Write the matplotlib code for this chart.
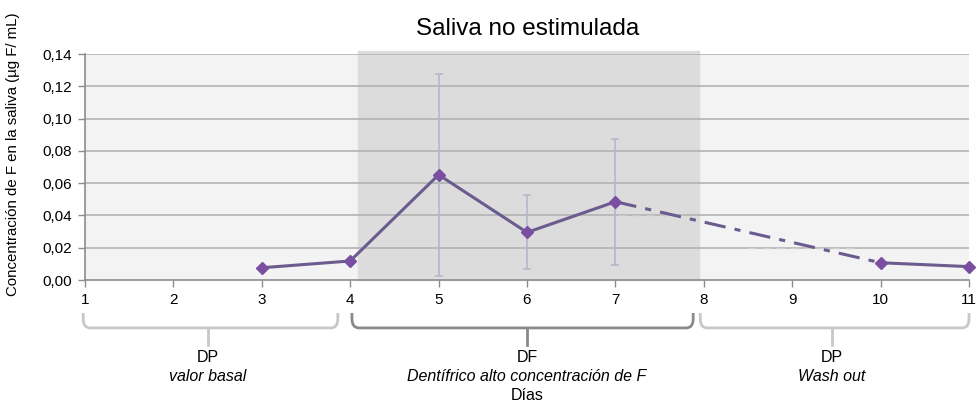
import matplotlib
matplotlib.use("Agg")
import matplotlib.pyplot as plt
from matplotlib.path import Path
from matplotlib.patches import PathPatch, Rectangle
from matplotlib.transforms import blended_transform_factory
from matplotlib.ticker import FuncFormatter

plt.rcParams['font.family'] = ['Liberation Sans', 'DejaVu Sans']

# data
days = [3, 4, 5, 6, 7]
conc = [0.0076, 0.0118, 0.0652, 0.0295, 0.0485]
err_days = [5, 6, 7]
err_mean = [0.0652, 0.0295, 0.0485]
err_low = [0.0025, 0.0070, 0.0095]
err_high = [0.1274, 0.0525, 0.0875]
wash_days = [10, 11]
wash_conc = [0.0107, 0.0083]
xticks = list(range(1, 12))
yticks = [0.00, 0.02, 0.04, 0.06, 0.08, 0.10, 0.12, 0.14]

line_col = '#6b5b8e'
mark_col = '#7a4fa2'

fig = plt.figure(figsize=(9.78, 4.01), dpi=100)
ax = fig.add_axes([0.0869, 0.3017, 0.9039, 0.5636])

ax.set_xlim(1, 11)
ax.set_ylim(0, 0.14)

# background periods
ax.axvspan(1, 4.09, color='#f3f3f3', zorder=0)
ax.axvspan(7.95, 11, color='#f3f3f3', zorder=0)
ax.add_patch(Rectangle((4.09, 0), 7.95 - 4.09, 1.012, color='#dcdcdc', zorder=0,
                       transform=blended_transform_factory(ax.transData, ax.transAxes),
                       clip_on=False))

for y in yticks[1:]:
    ax.axhline(y, color='#b3b3b3', lw=1.2, zorder=1)

# faint leftover dashed guides
ax.plot([7.03, 7.78], [0.04, 0.04], color='#c8c8c8', lw=1, ls=(0, (6, 4)), zorder=2)
ax.plot([8.5, 9.7], [0.02, 0.02], color='#d0d0d0', lw=1, ls=(0, (6, 4)), zorder=2)

# error bars
yerr = [[m - l for m, l in zip(err_mean, err_low)], [h - m for m, h in zip(err_mean, err_high)]]
ax.errorbar(err_days, err_mean, yerr=yerr, fmt='none', ecolor='#b0b6c6', elinewidth=1.1,
            capsize=3, capthick=1.1, zorder=3)

ax.plot(days, conc, color=line_col, lw=2.2, zorder=4)
ax.plot([days[-1], wash_days[0]], [conc[-1], wash_conc[0]], color=line_col, lw=2.2,
        ls=(0, (7, 3, 2, 3)), zorder=4)
ax.plot(wash_days, wash_conc, color=line_col, lw=2.2, zorder=4)
ax.plot(days + wash_days, conc + wash_conc, ls='none', marker='D', ms=6,
        color=mark_col, zorder=5, clip_on=False)

ax.set_xticks(xticks)
ax.set_yticks(yticks)
ax.yaxis.set_major_formatter(FuncFormatter(lambda v, p: f'{v:.2f}'.replace('.', ',')))
ax.tick_params(axis='both', labelsize=11, color='#8c8c8c', length=5, width=1, pad=4)
for s in ['top', 'right']:
    ax.spines[s].set_visible(False)
for s in ['left', 'bottom']:
    ax.spines[s].set_color('#8c8c8c')
    ax.spines[s].set_linewidth(1.2)

# braces under the x axis
tr = blended_transform_factory(ax.transData, ax.transAxes)


def brace(x0, x1, xc, color):
    yt, yh, yb, ry, rx = -0.146, -0.212, -0.288, 0.04, 0.08
    verts = [(x0, yt), (x0, yh + ry), (x0, yh), (x0 + rx, yh), (x1 - rx, yh),
             (x1, yh), (x1, yh + ry), (x1, yt)]
    codes = [Path.MOVETO, Path.LINETO, Path.CURVE3, Path.CURVE3, Path.LINETO,
             Path.CURVE3, Path.CURVE3, Path.LINETO]
    ax.add_patch(PathPatch(Path(verts, codes), fc='none', ec=color, lw=2,
                           transform=tr, clip_on=False))
    ax.plot([xc, xc], [yh, yb], color=color, lw=2, transform=tr, clip_on=False)


brace(0.98, 3.86, 2.39, '#c8c8c8')
brace(4.02, 7.88, 6.0, '#8a8a8a')
brace(7.96, 11.0, 9.45, '#c8c8c8')

fs = 11.5
ax.text(2.39, -0.345, 'DP', transform=tr, ha='center', va='center', fontsize=fs)
ax.text(2.39, -0.429, 'valor basal', transform=tr, ha='center', va='center', fontsize=fs, style='italic')
ax.text(6.0, -0.345, 'DF', transform=tr, ha='center', va='center', fontsize=fs)
ax.text(6.0, -0.429, 'Dentífrico alto concentración de F', transform=tr, ha='center', va='center',
        fontsize=fs, style='italic')
ax.text(6.0, -0.509, 'Días', transform=tr, ha='center', va='center', fontsize=fs)
ax.text(9.45, -0.345, 'DP', transform=tr, ha='center', va='center', fontsize=fs)
ax.text(9.45, -0.429, 'Wash out', transform=tr, ha='center', va='center', fontsize=fs, style='italic')

fig.text(0.539, 0.9127, 'Saliva no estimulada', ha='center', va='baseline', fontsize=17.5)
fig.text(0.013, 0.615, 'Concentración de F en la saliva (µg F/ mL)', rotation=90,
         ha='center', va='center', fontsize=10.8)

fig.savefig('out.png', dpi=100)
